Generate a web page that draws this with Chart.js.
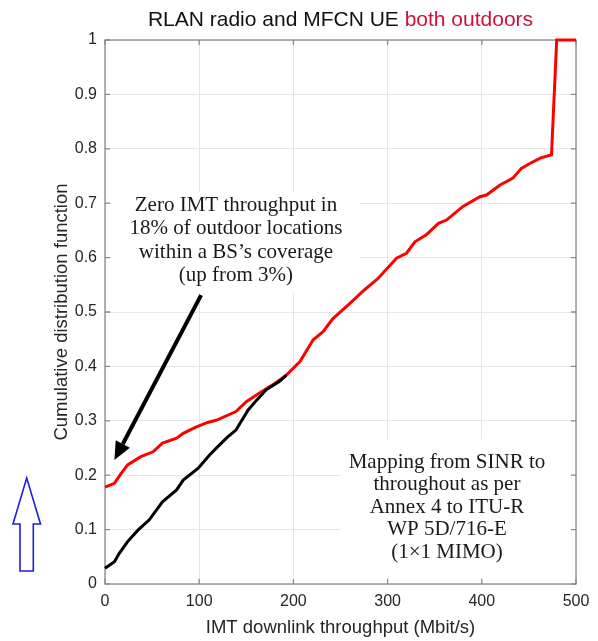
<!DOCTYPE html>
<html>
<head>
<meta charset="utf-8">
<script src="https://cdn.jsdelivr.net/npm/chart.js@4"></script>
<style>
  html, body { margin: 0; padding: 0; background: #fff; }
  #wrap { width: 598px; height: 641px; }
</style>
</head>
<body>
<div id="wrap"><canvas id="cdfChart" width="598" height="641"></canvas></div>
<script>
// CDF of IMT downlink throughput (Mbit/s)
const blackX = [0, 10, 15, 24, 35, 47, 61, 76, 83, 99, 111, 120, 130, 139, 152, 161, 171, 185, 192.5];
const blackY = [0.029, 0.041, 0.056, 0.078, 0.099, 0.118, 0.151, 0.173, 0.191, 0.213, 0.237, 0.253, 0.27, 0.283, 0.32, 0.338, 0.357, 0.372, 0.384];

const redX = [0, 10, 17, 24, 38, 51, 61, 76, 83, 97, 109, 118, 139, 150, 164, 178, 192.5, 207, 221, 231.5, 242, 260, 275, 290, 309.5, 320, 329, 341, 354, 362.5, 380, 398, 405, 419, 433, 442, 451, 462, 474, 479.5, 500];
const redY = [0.178, 0.185, 0.203, 0.219, 0.234, 0.243, 0.259, 0.268, 0.277, 0.289, 0.297, 0.301, 0.317, 0.335, 0.351, 0.366, 0.384, 0.409, 0.449, 0.464, 0.488, 0.516, 0.54, 0.562, 0.599, 0.608, 0.629, 0.642, 0.663, 0.669, 0.694, 0.712, 0.715, 0.733, 0.746, 0.764, 0.773, 0.783, 0.789, 1.0, 1.0];

const xTickLabels = ['0', '100', '200', '300', '400', '500'];
const yTickLabels = ['0', '0.1', '0.2', '0.3', '0.4', '0.5', '0.6', '0.7', '0.8', '0.9', '1'];

const titleParts = ['RLAN radio and MFCN UE ', 'both outdoors'];
const noteLeft = ['Zero IMT throughput in', '18% of outdoor locations', 'within a BS\u2019s coverage', '(up from 3%)'];
const noteRight = ['Mapping from SINR to', 'throughout as per', 'Annex 4 to ITU-R', 'WP 5D/716-E', '(1\u00d71 MIMO)'];

// arrow from note to red curve start, in data units
const arrowFrom = {x: 102, y: 0.531};
const arrowTo = {x: 10, y: 0.228};

const toPoints = (xs, ys) => xs.map((x, i) => ({x: x, y: ys[i]}));

const sansFont = '"Liberation Sans", Arial, sans-serif';
const serifFont = '"Liberation Serif", "DejaVu Serif", serif';

const decorations = {
    id: 'decorations',
    beforeDatasetsDraw(chart) {
        const {ctx, chartArea: a, scales: {x, y}} = chart;
        ctx.save();
        // white boxes behind the notes
        ctx.fillStyle = '#fff';
        ctx.fillRect(x.getPixelForValue(8), y.getPixelForValue(0.72), x.getPixelForValue(270) - x.getPixelForValue(8), y.getPixelForValue(0.535) - y.getPixelForValue(0.72));
        ctx.fillRect(x.getPixelForValue(250), y.getPixelForValue(0.265), x.getPixelForValue(495) - x.getPixelForValue(250), y.getPixelForValue(0.012) - y.getPixelForValue(0.265));

        // box
        ctx.strokeStyle = '#8a8a8a';
        ctx.lineWidth = 1.3;
        ctx.strokeRect(a.left, a.top, a.right - a.left, a.bottom - a.top);

        // inward ticks on all four sides
        ctx.beginPath();
        xTickLabels.forEach(t => {
            const px = x.getPixelForValue(+t);
            ctx.moveTo(px, a.bottom); ctx.lineTo(px, a.bottom - 5);
            ctx.moveTo(px, a.top); ctx.lineTo(px, a.top + 5);
        });
        yTickLabels.forEach(t => {
            const py = y.getPixelForValue(+t);
            ctx.moveTo(a.left, py); ctx.lineTo(a.left + 5, py);
            ctx.moveTo(a.right, py); ctx.lineTo(a.right - 5, py);
        });
        ctx.stroke();

        // notes
        ctx.fillStyle = '#1a1a1a';
        ctx.font = '21px ' + serifFont;
        ctx.textAlign = 'center';
        ctx.textBaseline = 'middle';
        const lx = x.getPixelForValue(139);
        noteLeft.forEach((s, i) => ctx.fillText(s, lx, 205 + i * 23.5));
        const rx = x.getPixelForValue(363);
        noteRight.forEach((s, i) => ctx.fillText(s, rx, 462 + i * 22.5));
        ctx.restore();
    },
    afterDraw(chart) {
        const {ctx, chartArea: a, scales: {x, y}} = chart;
        ctx.save();
        // title in two colours
        ctx.font = '21px ' + sansFont;
        ctx.textBaseline = 'middle';
        ctx.textAlign = 'left';
        const w0 = ctx.measureText(titleParts[0]).width;
        const w1 = ctx.measureText(titleParts[1]).width;
        let tx = (a.left + a.right) / 2 - (w0 + w1) / 2;
        ctx.fillStyle = '#111';
        ctx.fillText(titleParts[0], tx, 20);
        ctx.fillStyle = '#d0103a';
        ctx.fillText(titleParts[1], tx + w0, 20);

        // black arrow
        const x0 = x.getPixelForValue(arrowFrom.x), y0 = y.getPixelForValue(arrowFrom.y);
        const x1 = x.getPixelForValue(arrowTo.x), y1 = y.getPixelForValue(arrowTo.y);
        const ang = Math.atan2(y1 - y0, x1 - x0);
        const headLen = 18, headW = 8;
        const bx = x1 - headLen * Math.cos(ang), by = y1 - headLen * Math.sin(ang);
        ctx.strokeStyle = '#000';
        ctx.lineWidth = 4;
        ctx.beginPath();
        ctx.moveTo(x0, y0);
        ctx.lineTo(bx, by);
        ctx.stroke();
        ctx.fillStyle = '#000';
        ctx.beginPath();
        ctx.moveTo(x1, y1);
        ctx.lineTo(bx + headW * Math.sin(ang), by - headW * Math.cos(ang));
        ctx.lineTo(bx - headW * Math.sin(ang), by + headW * Math.cos(ang));
        ctx.closePath();
        ctx.fill();

        // hollow blue arrow left of the axis
        ctx.strokeStyle = '#1f1fdc';
        ctx.lineWidth = 1.6;
        ctx.beginPath();
        ctx.moveTo(26.7, 478);
        ctx.lineTo(40.5, 524);
        ctx.lineTo(33.3, 524);
        ctx.lineTo(33.3, 571);
        ctx.lineTo(20, 571);
        ctx.lineTo(20, 524);
        ctx.lineTo(13, 524);
        ctx.closePath();
        ctx.stroke();
        ctx.restore();
    }
};

new Chart(document.getElementById('cdfChart'), {
    type: 'scatter',
    data: {
        datasets: [{
            label: 'Before',
            data: toPoints(blackX, blackY),
            showLine: true,
            borderColor: '#000',
            borderWidth: 3,
            pointRadius: 0,
            clip: false
        }, {
            label: 'After',
            data: toPoints(redX, redY),
            showLine: true,
            borderColor: '#ff0000',
            borderWidth: 3,
            pointRadius: 0,
            clip: false
        }]
    },
    plugins: [decorations],
    options: {
        responsive: false,
        animation: false,
        layout: {padding: {top: 40, right: 22, left: 0, bottom: 0}},
        plugins: {
            legend: {display: false},
            tooltip: {enabled: false}
        },
        scales: {
            x: {
                type: 'linear',
                min: 0,
                max: 500,
                afterFit: s => { s.height = 57; },
                afterBuildTicks: s => { s.ticks = xTickLabels.map(v => ({value: +v})); },
                ticks: {
                    color: '#262626',
                    font: {family: sansFont, size: 16},
                    padding: 8,
                    maxRotation: 0,
                    callback: (v, i) => xTickLabels[i]
                },
                grid: {color: '#e6e6e6', drawTicks: false},
                border: {display: false},
                title: {
                    display: true,
                    text: 'IMT downlink throughput (Mbit/s)',
                    color: '#262626',
                    font: {family: sansFont, size: 18.5},
                    padding: {top: 0, bottom: 2}
                }
            },
            y: {
                min: 0,
                max: 1,
                afterFit: s => { s.width = 105; },
                afterBuildTicks: s => { s.ticks = yTickLabels.map(v => ({value: +v})); },
                ticks: {
                    color: '#262626',
                    font: {family: sansFont, size: 16},
                    padding: 8,
                    callback: (v, i) => yTickLabels[i]
                },
                grid: {color: '#e6e6e6', drawTicks: false},
                border: {display: false},
                title: {
                    display: true,
                    text: 'Cumulative distribution function',
                    color: '#262626',
                    font: {family: sansFont, size: 18.5},
                    padding: {top: 51, bottom: 0}
                }
            }
        }
    }
});
</script>
</body>
</html>
